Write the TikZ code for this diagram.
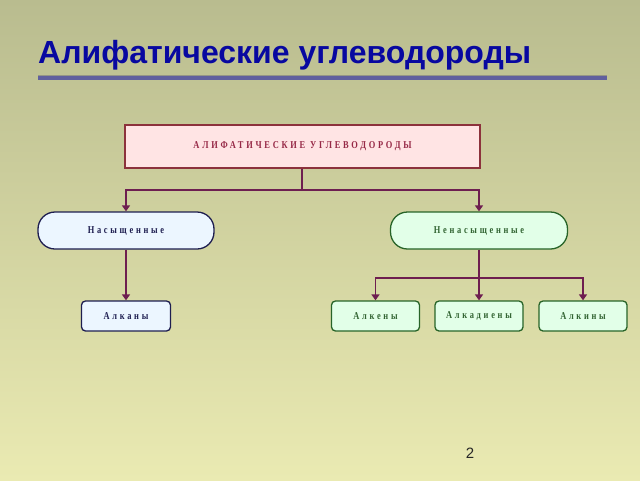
\documentclass[tikz,border=0pt]{standalone}
\usepackage{fontspec}
\setmainfont{Liberation Serif}
\newfontfamily\titlefont{Liberation Sans}
\newfontfamily\boxfont[LetterSpace=26,FakeStretch=0.8]{Liberation Serif}
\usetikzlibrary{arrows.meta}
\definecolor{bgtop}{RGB}{185,188,143}
\definecolor{bgbot}{RGB}{234,234,178}
\definecolor{titleblue}{RGB}{8,8,160}
\definecolor{rulecol}{RGB}{96,96,158}
\definecolor{linkcol}{RGB}{110,30,80}
\definecolor{pinkfill}{RGB}{255,228,228}
\definecolor{redborder}{RGB}{140,50,60}
\definecolor{redtext}{RGB}{150,40,70}
\definecolor{bluefill}{RGB}{236,246,255}
\definecolor{navy}{RGB}{30,30,80}
\definecolor{greenfill}{RGB}{226,255,232}
\definecolor{greenborder}{RGB}{40,100,40}
\definecolor{greentext}{RGB}{50,100,50}
\tikzset{
  boxtext/.style={font=\boxfont\bfseries\fontsize{10.5}{12}\selectfont},
  topbox/.style={boxtext, draw=redborder, line width=1.6pt, fill=pinkfill, minimum width=355pt, minimum height=43pt, inner sep=0pt, text=redtext},
  bluestadium/.style={boxtext, draw=navy, line width=1.3pt, fill=bluefill, minimum width=176pt, minimum height=37pt, rounded corners=17pt, inner sep=0pt, text=navy},
  greenstadium/.style={boxtext, draw=greenborder, line width=1.3pt, fill=greenfill, minimum width=177pt, minimum height=37pt, rounded corners=17pt, inner sep=0pt, text=greentext},
  bluebox/.style={boxtext, draw=navy, line width=1.3pt, fill=bluefill, minimum width=89pt, minimum height=30pt, rounded corners=4pt, inner sep=0pt, text=navy},
  greenbox/.style={boxtext, draw=greenborder, line width=1.3pt, fill=greenfill, minimum width=88pt, minimum height=30pt, rounded corners=4pt, inner sep=0pt, text=greentext},
  link/.style={draw=linkcol, line width=1.7pt},
  arrowlink/.style={link, -{Triangle[width=8pt,length=6pt]}},
}
\begin{document}
\begin{tikzpicture}[x=1pt,y=-1pt]
\useasboundingbox (0,0) rectangle (640,480);
\shade[top color=bgtop, bottom color=bgbot] (0,0) rectangle (640,480);
% title
\node[anchor=base west, inner sep=0pt, text=titleblue, font=\titlefont\bfseries\fontsize{32}{36}\selectfont] (title) at (38,63) {Алифатические углеводороды};
\coordinate (ruleL) at (38,78);
\coordinate (ruleR) at (607,78);
\draw[rulecol!70!black, line width=4pt, opacity=0.35] ([yshift=1.5pt]ruleL) -- ([yshift=1.5pt]ruleR);
\draw[rulecol, line width=3.5pt] (ruleL) -- (ruleR);
% nodes
\node[topbox] (top) at (302.5,146.5) {АЛИФАТИЧЕСКИЕ УГЛЕВОДОРОДЫ};
\node[bluestadium] (sat) at (126,230.5) {Насыщенные};
\node[greenstadium] (unsat) at (479,230.5) {Ненасыщенные};
\node[bluebox] (alkany) at (126,316) {Алканы};
\node[greenbox] (alkeny) at (375.5,316) {Алкены};
\node[greenbox] (alkadieny) at (479,316) {Алкадиены};
\node[greenbox] (alkiny) at (583,316) {Алкины};
% connectors
\coordinate (j1) at (302,190);
\draw[link] (top.south -| j1) -- (j1);
\draw[arrowlink] (j1) -| (sat.north);
\draw[arrowlink] (j1) -| (unsat.north);
\draw[arrowlink] (sat.south) -- (alkany.north);
\coordinate (j2) at (479,278);
\draw[link] (unsat.south) -- (j2);
\draw[arrowlink] (j2) -| (alkeny.north);
\draw[arrowlink] (j2) -- (alkadieny.north);
\draw[arrowlink] (j2) -| (alkiny.north);
% page number
\node[anchor=base, inner sep=0pt, text=black!85, font=\titlefont\fontsize{15}{18}\selectfont] (pagenum) at (470,458) {2};
\end{tikzpicture}
\end{document}
